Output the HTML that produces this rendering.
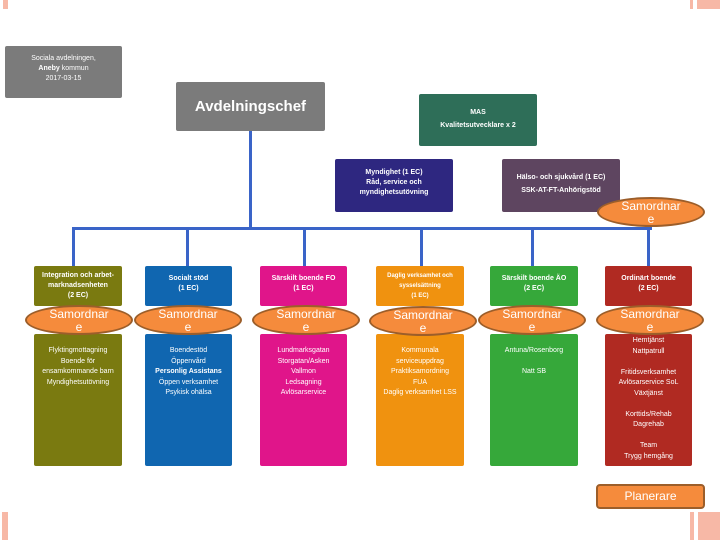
<!DOCTYPE html>
<html><head><meta charset="utf-8"><style>
body{margin:0;width:720px;height:540px;background:#fff;position:relative;overflow:hidden;font-family:"Liberation Sans",sans-serif}
.b{position:absolute;color:#fff;text-align:center;box-sizing:border-box;border-radius:2px;font-size:7px;line-height:10px;font-weight:bold}
.l{position:absolute;background:#3a64c8}
.e{position:absolute;width:108px;height:30px;border-radius:50%;background:#f58b3c;border:2px solid #9c5e2a;color:#fff;text-align:center;font-size:12px;line-height:13px;box-sizing:border-box;padding-top:1px}
.d{position:absolute;color:#fff;text-align:center;font-size:7px;line-height:10.5px}
.p{position:absolute;background:#f7b8a6}
</style></head><body>
<div class="p" style="left:3px;top:0;width:5px;height:9px"></div>
<div class="p" style="left:690px;top:0;width:3px;height:9px"></div>
<div class="p" style="left:697px;top:0;width:23px;height:9px"></div>
<div class="p" style="left:2px;top:512px;width:6px;height:28px"></div>
<div class="p" style="left:690px;top:512px;width:4px;height:28px"></div>
<div class="p" style="left:698px;top:512px;width:22px;height:28px"></div>

<div class="b" style="left:5px;top:46px;width:117px;height:52px;background:#7b7b7b;padding-top:8px;font-weight:normal">Sociala avdelningen,<br><b>Aneby</b> kommun<br>2017-03-15</div>
<div class="b" style="left:176px;top:82px;width:149px;height:49px;background:#7b7b7b;font-size:15px;line-height:49px">Avdelningschef</div>
<div class="b" style="left:419px;top:94px;width:118px;height:52px;background:#2e6e58;padding-top:12px;line-height:13px">MAS<br>Kvalitetsutvecklare x 2</div>
<div class="b" style="left:335px;top:159px;width:118px;height:53px;background:#2e2780;padding-top:9px">Myndighet (1 EC)<br>Råd, service och<br>myndighetsutövning</div>
<div class="b" style="left:502px;top:159px;width:118px;height:53px;background:#5e4560;padding-top:12px;line-height:13px">Hälso- och sjukvård (1 EC)<br>SSK-AT-FT-Anhörigstöd</div>

<div class="l" style="left:249px;top:131px;width:3px;height:98px"></div>
<div class="l" style="left:72px;top:227px;width:580px;height:3px"></div>
<div class="l" style="left:72px;top:227px;width:3px;height:39px"></div>
<div class="l" style="left:186px;top:227px;width:3px;height:39px"></div>
<div class="l" style="left:303px;top:227px;width:3px;height:39px"></div>
<div class="l" style="left:420px;top:227px;width:3px;height:39px"></div>
<div class="l" style="left:531px;top:227px;width:3px;height:39px"></div>
<div class="l" style="left:647px;top:227px;width:3px;height:39px"></div>

<div class="b" style="left:34px;top:266px;width:88px;height:40px;background:#7a7a10;padding-top:5px">Integration och arbet-<br>marknadsenheten<br>(2 EC)</div>
<div class="b" style="left:34px;top:334px;width:88px;height:132px;background:#7a7a10"></div>
<div class="b" style="left:145px;top:266px;width:87px;height:40px;background:#1066b0;padding-top:8px">Socialt stöd<br>(1 EC)</div>
<div class="b" style="left:145px;top:334px;width:87px;height:132px;background:#1066b0"></div>
<div class="b" style="left:260px;top:266px;width:87px;height:40px;background:#e0158a;padding-top:8px">Särskilt boende FO<br>(1 EC)</div>
<div class="b" style="left:260px;top:334px;width:87px;height:132px;background:#e0158a"></div>
<div class="b" style="left:376px;top:266px;width:88px;height:40px;background:#f0920f;padding-top:5px;font-size:6px">Daglig verksamhet och<br>sysselsättning<br>(1 EC)</div>
<div class="b" style="left:376px;top:334px;width:88px;height:132px;background:#f0920f"></div>
<div class="b" style="left:490px;top:266px;width:88px;height:40px;background:#36a83a;padding-top:8px">Särskilt boende ÄO<br>(2 EC)</div>
<div class="b" style="left:490px;top:334px;width:88px;height:132px;background:#36a83a"></div>
<div class="b" style="left:605px;top:266px;width:87px;height:40px;background:#b02a22;padding-top:8px">Ordinärt boende<br>(2 EC)</div>
<div class="b" style="left:605px;top:334px;width:87px;height:132px;background:#b02a22"></div>

<div class="d" style="left:34px;top:346px;width:88px">Flyktingmottagning<br>Boende för<br>ensamkommande barn<br>Myndighetsutövning</div>
<div class="d" style="left:145px;top:346px;width:87px">Boendestöd<br>Öppenvård<br><b>Personlig Assistans</b><br>Öppen verksamhet<br>Psykisk ohälsa</div>
<div class="d" style="left:260px;top:346px;width:87px">Lundmarksgatan<br>Storgatan/Asken<br>Vallmon<br>Ledsagning<br>Avlösarservice</div>
<div class="d" style="left:376px;top:346px;width:88px">Kommunala<br>serviceuppdrag<br>Praktiksamordning<br>FUA<br>Daglig verksamhet LSS</div>
<div class="d" style="left:490px;top:346px;width:88px">Antuna/Rosenborg<br><br>Natt SB</div>
<div class="d" style="left:605px;top:336px;width:87px">Hemtjänst<br>Nattpatrull<br><br>Fritidsverksamhet<br>Avlösarservice SoL<br>Växtjänst<br><br>Korttids/Rehab<br>Dagrehab<br><br>Team<br>Trygg hemgång</div>

<div class="e" style="left:597px;top:197px">Samordnar<br>e</div>
<div class="e" style="left:25px;top:305px">Samordnar<br>e</div>
<div class="e" style="left:134px;top:305px">Samordnar<br>e</div>
<div class="e" style="left:252px;top:305px">Samordnar<br>e</div>
<div class="e" style="left:369px;top:306px">Samordnar<br>e</div>
<div class="e" style="left:478px;top:305px">Samordnar<br>e</div>
<div class="e" style="left:596px;top:305px">Samordnar<br>e</div>

<div style="position:absolute;left:596px;top:484px;width:109px;height:25px;box-sizing:border-box;background:#f58b3c;border:2px solid #9c5e2a;border-radius:4px;color:#fff;font-size:12px;text-align:center;line-height:21px">Planerare</div>
</body></html>
